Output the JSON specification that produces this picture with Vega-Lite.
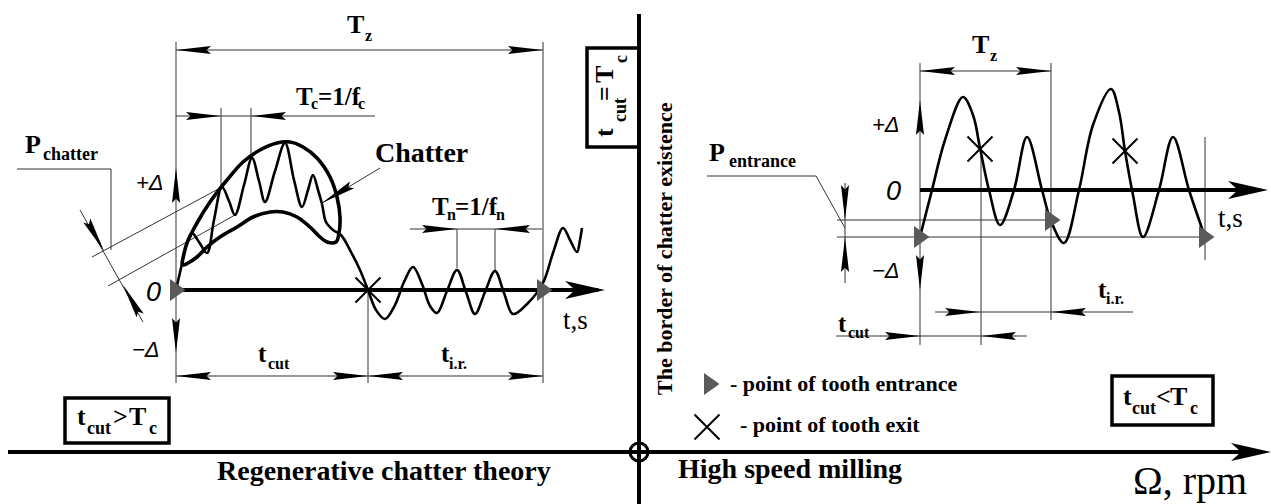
{
"$schema":"https://vega.github.io/schema/vega-lite/v6.json",
"width":1271,"height":504,"padding":0,"autosize":{"type":"none"},
"background":"white",
"config":{"view":{"stroke":null}},
"datasets":{
"paths":[
{"id":"t1","kind":"thin","ord":0,"x":176,"y":42},{"id":"t1","kind":"thin","ord":1,"x":176,"y":383},
{"id":"t2","kind":"thin","ord":0,"x":543,"y":42},{"id":"t2","kind":"thin","ord":1,"x":543,"y":383},
{"id":"t3","kind":"thin","ord":0,"x":176,"y":50},{"id":"t3","kind":"thin","ord":1,"x":543,"y":50},
{"id":"t4","kind":"thin","ord":0,"x":176,"y":116},{"id":"t4","kind":"thin","ord":1,"x":375,"y":116},
{"id":"t5","kind":"thin","ord":0,"x":221,"y":108},{"id":"t5","kind":"thin","ord":1,"x":221,"y":187},
{"id":"t6","kind":"thin","ord":0,"x":251,"y":108},{"id":"t6","kind":"thin","ord":1,"x":251,"y":160},
{"id":"t7","kind":"thin","ord":0,"x":410,"y":229},{"id":"t7","kind":"thin","ord":1,"x":542,"y":229},
{"id":"t8","kind":"thin","ord":0,"x":457,"y":229},{"id":"t8","kind":"thin","ord":1,"x":457,"y":268},
{"id":"t9","kind":"thin","ord":0,"x":495,"y":229},{"id":"t9","kind":"thin","ord":1,"x":495,"y":270},
{"id":"t10","kind":"thin","ord":0,"x":368,"y":290},{"id":"t10","kind":"thin","ord":1,"x":368,"y":383},
{"id":"t11","kind":"thin","ord":0,"x":176,"y":376},{"id":"t11","kind":"thin","ord":1,"x":543,"y":376},
{"id":"t12","kind":"thin","ord":0,"x":17,"y":169},{"id":"t12","kind":"thin","ord":1,"x":111,"y":169},{"id":"t12","kind":"thin","ord":2,"x":111,"y":250},
{"id":"t13","kind":"thin","ord":0,"x":222,"y":187},{"id":"t13","kind":"thin","ord":1,"x":92,"y":257},
{"id":"t14","kind":"thin","ord":0,"x":235,"y":215},{"id":"t14","kind":"thin","ord":1,"x":108,"y":286},
{"id":"t15","kind":"thin","ord":0,"x":80,"y":210},{"id":"t15","kind":"thin","ord":1,"x":143,"y":322},
{"id":"t16","kind":"thin","ord":0,"x":380,"y":168},{"id":"t16","kind":"thin","ord":1,"x":322,"y":203},
{"id":"t17","kind":"thin","ord":0,"x":920,"y":63},{"id":"t17","kind":"thin","ord":1,"x":920,"y":345},
{"id":"t18","kind":"thin","ord":0,"x":920,"y":71},{"id":"t18","kind":"thin","ord":1,"x":1051,"y":71},
{"id":"t19","kind":"thin","ord":0,"x":1051,"y":63},{"id":"t19","kind":"thin","ord":1,"x":1051,"y":320},
{"id":"t20","kind":"thin","ord":0,"x":981,"y":148},{"id":"t20","kind":"thin","ord":1,"x":981,"y":345},
{"id":"t21","kind":"thin","ord":0,"x":1205,"y":137},{"id":"t21","kind":"thin","ord":1,"x":1205,"y":260},
{"id":"t22","kind":"thin","ord":0,"x":837,"y":220},{"id":"t22","kind":"thin","ord":1,"x":1051,"y":220},
{"id":"t23","kind":"thin","ord":0,"x":837,"y":237},{"id":"t23","kind":"thin","ord":1,"x":1205,"y":237},
{"id":"t24","kind":"thin","ord":0,"x":845,"y":183},{"id":"t24","kind":"thin","ord":1,"x":845,"y":283},
{"id":"t25","kind":"thin","ord":0,"x":707,"y":176},{"id":"t25","kind":"thin","ord":1,"x":816,"y":176},{"id":"t25","kind":"thin","ord":2,"x":845,"y":228},
{"id":"t26","kind":"thin","ord":0,"x":935,"y":312},{"id":"t26","kind":"thin","ord":1,"x":1133,"y":312},
{"id":"t27","kind":"thin","ord":0,"x":836,"y":336},{"id":"t27","kind":"thin","ord":1,"x":1027,"y":336},
{"id":"a1","kind":"axis","ord":0,"x":176,"y":290},{"id":"a1","kind":"axis","ord":1,"x":598,"y":290},
{"id":"a2","kind":"axis","ord":0,"x":8,"y":452},{"id":"a2","kind":"axis","ord":1,"x":1255,"y":452},
{"id":"a3","kind":"axis","ord":0,"x":639,"y":14},{"id":"a3","kind":"axis","ord":1,"x":639,"y":504},
{"id":"a4","kind":"axis","ord":0,"x":920,"y":190},{"id":"a4","kind":"axis","ord":1,"x":1255,"y":190},
{"id":"c1","kind":"curve","ord":0,"x":176,"y":290},{"id":"c1","kind":"curve","ord":1,"x":181,"y":268},{"id":"c1","kind":"curve","ord":2,"x":186,"y":246},{"id":"c1","kind":"curve","ord":3,"x":192,"y":233},{"id":"c1","kind":"curve","ord":4,"x":199,"y":242},{"id":"c1","kind":"curve","ord":5,"x":207,"y":253},{"id":"c1","kind":"curve","ord":6,"x":214,"y":220},{"id":"c1","kind":"curve","ord":7,"x":222,"y":187},{"id":"c1","kind":"curve","ord":8,"x":229,"y":201},{"id":"c1","kind":"curve","ord":9,"x":235,"y":215},{"id":"c1","kind":"curve","ord":10,"x":244,"y":185},{"id":"c1","kind":"curve","ord":11,"x":252,"y":158},{"id":"c1","kind":"curve","ord":12,"x":259,"y":181},{"id":"c1","kind":"curve","ord":13,"x":265,"y":202},{"id":"c1","kind":"curve","ord":14,"x":275,"y":171},{"id":"c1","kind":"curve","ord":15,"x":285,"y":143},{"id":"c1","kind":"curve","ord":16,"x":294,"y":180},{"id":"c1","kind":"curve","ord":17,"x":302,"y":207},{"id":"c1","kind":"curve","ord":18,"x":308,"y":190},{"id":"c1","kind":"curve","ord":19,"x":313,"y":175},{"id":"c1","kind":"curve","ord":20,"x":318,"y":190},{"id":"c1","kind":"curve","ord":21,"x":322,"y":204},{"id":"c1","kind":"curve","ord":22,"x":326,"y":222},{"id":"c1","kind":"curve","ord":23,"x":333,"y":230},{"id":"c1","kind":"curve","ord":24,"x":341,"y":235},{"id":"c1","kind":"curve","ord":25,"x":351,"y":252},{"id":"c1","kind":"curve","ord":26,"x":360,"y":270},{"id":"c1","kind":"curve","ord":27,"x":368,"y":290},{"id":"c1","kind":"curve","ord":28,"x":376,"y":310},{"id":"c1","kind":"curve","ord":29,"x":385,"y":319},{"id":"c1","kind":"curve","ord":30,"x":395,"y":305},{"id":"c1","kind":"curve","ord":31,"x":404,"y":282},{"id":"c1","kind":"curve","ord":32,"x":413,"y":267},{"id":"c1","kind":"curve","ord":33,"x":422,"y":284},{"id":"c1","kind":"curve","ord":34,"x":430,"y":306},{"id":"c1","kind":"curve","ord":35,"x":437,"y":313},{"id":"c1","kind":"curve","ord":36,"x":447,"y":291},{"id":"c1","kind":"curve","ord":37,"x":457,"y":270},{"id":"c1","kind":"curve","ord":38,"x":466,"y":292},{"id":"c1","kind":"curve","ord":39,"x":475,"y":314},{"id":"c1","kind":"curve","ord":40,"x":485,"y":292},{"id":"c1","kind":"curve","ord":41,"x":495,"y":271},{"id":"c1","kind":"curve","ord":42,"x":504,"y":293},{"id":"c1","kind":"curve","ord":43,"x":513,"y":314},{"id":"c1","kind":"curve","ord":44,"x":528,"y":303},{"id":"c1","kind":"curve","ord":45,"x":543,"y":283},{"id":"c1","kind":"curve","ord":46,"x":553,"y":253},{"id":"c1","kind":"curve","ord":47,"x":563,"y":228},{"id":"c1","kind":"curve","ord":48,"x":570,"y":240},{"id":"c1","kind":"curve","ord":49,"x":577,"y":252},{"id":"c1","kind":"curve","ord":50,"x":580,"y":240},{"id":"c1","kind":"curve","ord":51,"x":582,"y":228},
{"id":"c3","kind":"curve","ord":0,"x":920,"y":237},{"id":"c3","kind":"curve","ord":1,"x":932,"y":190},{"id":"c3","kind":"curve","ord":2,"x":945,"y":140},{"id":"c3","kind":"curve","ord":3,"x":963,"y":97},{"id":"c3","kind":"curve","ord":4,"x":973,"y":115},{"id":"c3","kind":"curve","ord":5,"x":980,"y":148},{"id":"c3","kind":"curve","ord":6,"x":989,"y":190},{"id":"c3","kind":"curve","ord":7,"x":1000,"y":225},{"id":"c3","kind":"curve","ord":8,"x":1014,"y":190},{"id":"c3","kind":"curve","ord":9,"x":1027,"y":137},{"id":"c3","kind":"curve","ord":10,"x":1042,"y":190},{"id":"c3","kind":"curve","ord":11,"x":1051,"y":221},{"id":"c3","kind":"curve","ord":12,"x":1064,"y":243},{"id":"c3","kind":"curve","ord":13,"x":1079,"y":190},{"id":"c3","kind":"curve","ord":14,"x":1093,"y":125},{"id":"c3","kind":"curve","ord":15,"x":1111,"y":89},{"id":"c3","kind":"curve","ord":16,"x":1119,"y":112},{"id":"c3","kind":"curve","ord":17,"x":1125,"y":151},{"id":"c3","kind":"curve","ord":18,"x":1133,"y":195},{"id":"c3","kind":"curve","ord":19,"x":1143,"y":237},{"id":"c3","kind":"curve","ord":20,"x":1159,"y":190},{"id":"c3","kind":"curve","ord":21,"x":1173,"y":137},{"id":"c3","kind":"curve","ord":22,"x":1189,"y":190},{"id":"c3","kind":"curve","ord":23,"x":1205,"y":237},
{"id":"e1","kind":"env","ord":0,"x":182,"y":263},{"id":"e1","kind":"env","ord":1,"x":187,"y":243},{"id":"e1","kind":"env","ord":2,"x":197,"y":223},{"id":"e1","kind":"env","ord":3,"x":210,"y":202},{"id":"e1","kind":"env","ord":4,"x":227,"y":180},{"id":"e1","kind":"env","ord":5,"x":243,"y":162},{"id":"e1","kind":"env","ord":6,"x":260,"y":150},{"id":"e1","kind":"env","ord":7,"x":277,"y":143},{"id":"e1","kind":"env","ord":8,"x":290,"y":142},{"id":"e1","kind":"env","ord":9,"x":303,"y":147},{"id":"e1","kind":"env","ord":10,"x":317,"y":158},{"id":"e1","kind":"env","ord":11,"x":330,"y":177},{"id":"e1","kind":"env","ord":12,"x":337,"y":197},{"id":"e1","kind":"env","ord":13,"x":340,"y":217},{"id":"e1","kind":"env","ord":14,"x":339,"y":233},{"id":"e1","kind":"env","ord":15,"x":336,"y":242},{"id":"e1","kind":"env","ord":16,"x":327,"y":242},{"id":"e1","kind":"env","ord":17,"x":320,"y":237},{"id":"e1","kind":"env","ord":18,"x":310,"y":227},{"id":"e1","kind":"env","ord":19,"x":297,"y":217},{"id":"e1","kind":"env","ord":20,"x":283,"y":212},{"id":"e1","kind":"env","ord":21,"x":270,"y":212},{"id":"e1","kind":"env","ord":22,"x":253,"y":217},{"id":"e1","kind":"env","ord":23,"x":237,"y":227},{"id":"e1","kind":"env","ord":24,"x":220,"y":237},{"id":"e1","kind":"env","ord":25,"x":207,"y":247},{"id":"e1","kind":"env","ord":26,"x":197,"y":257},{"id":"e1","kind":"env","ord":27,"x":188,"y":263},{"id":"e1","kind":"env","ord":28,"x":183,"y":265},{"id":"e1","kind":"env","ord":29,"x":182,"y":263}
],
"arrows":[
{"x":176,"y":50,"dir":"left","kind":"dim"},{"x":543,"y":50,"dir":"right","kind":"dim"},
{"x":221,"y":116,"dir":"right","kind":"dim"},{"x":251,"y":116,"dir":"left","kind":"dim"},
{"x":176,"y":168,"dir":"up","kind":"dim"},{"x":176,"y":353,"dir":"down","kind":"dim"},
{"x":457,"y":229,"dir":"right","kind":"dim"},{"x":495,"y":229,"dir":"left","kind":"dim"},
{"x":176,"y":376,"dir":"left","kind":"dim"},{"x":368,"y":376,"dir":"right","kind":"dim"},{"x":368,"y":376,"dir":"left","kind":"dim"},{"x":543,"y":376,"dir":"right","kind":"dim"},
{"x":104,"y":251,"dir":"pc1","kind":"dim"},{"x":123,"y":285,"dir":"pc2","kind":"dim"},{"x":322,"y":203,"dir":"ptr","kind":"dim"},
{"x":920,"y":71,"dir":"left","kind":"dim"},{"x":1051,"y":71,"dir":"right","kind":"dim"},
{"x":920,"y":100,"dir":"up","kind":"dim"},{"x":920,"y":290,"dir":"down","kind":"dim"},
{"x":845,"y":220,"dir":"down","kind":"dim"},{"x":845,"y":237,"dir":"up","kind":"dim"},
{"x":980,"y":312,"dir":"right","kind":"dim"},{"x":1051,"y":312,"dir":"left","kind":"dim"},
{"x":920,"y":336,"dir":"right","kind":"dim"},{"x":981,"y":336,"dir":"left","kind":"dim"},
{"x":605,"y":290,"dir":"axr","kind":"axis"},{"x":1271,"y":452,"dir":"axr","kind":"axis"},{"x":1268,"y":190,"dir":"axr","kind":"axis"}
],
"marks":[
{"x":177,"y":290,"type":"entry"},{"x":544,"y":290,"type":"entry"},{"x":921,"y":237,"type":"entry"},{"x":1052,"y":220,"type":"entry"},{"x":1206,"y":237,"type":"entry"},{"x":711,"y":384,"type":"entry"},
{"x":368,"y":290,"type":"exit"},{"x":980,"y":149,"type":"exit"},{"x":1125,"y":151,"type":"exit"},{"x":707,"y":427,"type":"exit"},
{"x":639,"y":452,"type":"origin"}
],
"boxes":[
{"x":65,"x2":169,"y":398,"y2":443},{"x":1112,"x2":1213,"y":376,"y2":425},{"x":587,"x2":639,"y":48,"y2":147}
],
"texts":[
{"x":347,"y":33,"t":"T","role":"big"},{"x":365,"y":41,"t":"z","role":"sub"},
{"x":296,"y":105,"t":"T","role":"mid"},{"x":311,"y":109,"t":"c","role":"sub"},{"x":318,"y":105,"t":"=1/f","role":"mid"},{"x":358,"y":109,"t":"c","role":"sub"},
{"x":375,"y":162,"t":"Chatter","role":"head"},
{"x":25,"y":153,"t":"P","role":"big"},{"x":43,"y":160,"t":"chatter","role":"sub18"},
{"x":136,"y":190,"t":"+Δ","role":"ital"},{"x":146,"y":301,"t":"0","role":"zero"},{"x":132,"y":357,"t":"−Δ","role":"ital"},
{"x":563,"y":329,"t":"t,s","role":"reg"},
{"x":258,"y":362,"t":"t","role":"mid"},{"x":268,"y":369,"t":"cut","role":"sub"},
{"x":441,"y":362,"t":"t","role":"mid"},{"x":449,"y":369,"t":"i.r.","role":"sub"},
{"x":432,"y":215,"t":"T","role":"mid"},{"x":447,"y":220,"t":"n","role":"sub"},{"x":455,"y":215,"t":"=1/f","role":"mid"},{"x":496,"y":220,"t":"n","role":"sub"},
{"x":77,"y":425,"t":"t","role":"big"},{"x":87,"y":434,"t":"cut","role":"sub18"},{"x":113,"y":425,"t":">","role":"big"},{"x":129,"y":425,"t":"T","role":"big"},{"x":149,"y":434,"t":"c","role":"sub18"},
{"x":217,"y":480,"t":"Regenerative chatter theory","role":"head"},
{"x":672,"y":395,"t":"The border of chatter existence","role":"vert"},
{"x":613,"y":137,"t":"t","role":"vbig"},{"x":626,"y":122,"t":"cut","role":"vsub"},{"x":613,"y":101,"t":"=","role":"vbig"},{"x":613,"y":83,"t":"T","role":"vbig"},{"x":627,"y":63,"t":"c","role":"vsub"},
{"x":972,"y":53,"t":"T","role":"big"},{"x":990,"y":61,"t":"z","role":"sub"},
{"x":872,"y":132,"t":"+Δ","role":"ital"},{"x":886,"y":200,"t":"0","role":"zero"},{"x":872,"y":278,"t":"−Δ","role":"ital"},
{"x":709,"y":161,"t":"P","role":"big"},{"x":729,"y":167,"t":"entrance","role":"sub18"},
{"x":1218,"y":227,"t":"t,s","role":"reg"},
{"x":1098,"y":298,"t":"t","role":"mid"},{"x":1106,"y":304,"t":"i.r.","role":"sub"},
{"x":838,"y":332,"t":"t","role":"mid"},{"x":848,"y":338,"t":"cut","role":"sub"},
{"x":730,"y":391,"t":"- point of tooth entrance","role":"leg"},
{"x":740,"y":432,"t":"- point of tooth exit","role":"leg"},
{"x":678,"y":478,"t":"High speed milling","role":"head"},
{"x":1133,"y":494,"t":"Ω, rpm","role":"omega"},
{"x":1123,"y":405,"t":"t","role":"big"},{"x":1132,"y":414,"t":"cut","role":"sub18"},{"x":1156,"y":405,"t":"<","role":"big"},{"x":1170,"y":405,"t":"T","role":"big"},{"x":1190,"y":414,"t":"c","role":"sub18"}
]
},
"encoding":{
"x":{"field":"x","type":"quantitative","scale":{"domain":[0,1271],"nice":false,"zero":false},"axis":null},
"y":{"field":"y","type":"quantitative","scale":{"domain":[0,504],"reverse":true,"nice":false,"zero":false},"axis":null}
},
"layer":[
{"data":{"name":"boxes"},"mark":{"type":"rect","filled":false,"color":"black","strokeWidth":3.5},"encoding":{"x2":{"field":"x2"},"y2":{"field":"y2"}}},
{"data":{"name":"paths"},"transform":[{"filter":"datum.kind=='thin'"}],"mark":{"type":"line","color":"#333","strokeWidth":1},"encoding":{"detail":{"field":"id"},"order":{"field":"ord"}}},
{"data":{"name":"paths"},"transform":[{"filter":"datum.kind=='axis'"}],"mark":{"type":"line","color":"black","strokeWidth":4},"encoding":{"detail":{"field":"id"},"order":{"field":"ord"}}},
{"data":{"name":"paths"},"transform":[{"filter":"datum.kind=='curve'"}],"mark":{"type":"line","color":"black","strokeWidth":2.6,"interpolate":"catmull-rom"},"encoding":{"detail":{"field":"id"},"order":{"field":"ord"}}},
{"data":{"name":"paths"},"transform":[{"filter":"datum.kind=='env'"}],"mark":{"type":"line","color":"black","strokeWidth":3.6,"interpolate":"catmull-rom"},"encoding":{"detail":{"field":"id"},"order":{"field":"ord"}}},
{"data":{"name":"arrows"},"transform":[{"filter":"datum.kind=='dim'"}],"mark":{"type":"point","filled":true,"color":"black","opacity":1,"strokeWidth":0,"size":1225},
 "encoding":{"shape":{"field":"dir","type":"nominal","legend":null,"scale":{"domain":["right","left","up","down","pc1","pc2","ptr","axr"],"range":["M0,0L-2,-0.23L-1.75,0L-2,0.23Z","M0,0L2,-0.23L1.75,0L2,0.23Z","M0,0L-0.23,2L0,1.75L0.23,2Z","M0,0L-0.23,-2L0,-1.75L0.23,-2Z","M0,0L-1.18,-1.627L-0.858,-1.523L-0.78,-1.853Z","M0,0L1.18,1.627L0.858,1.523L0.78,1.853Z","M0,0L1.595,-1.231L1.5,-0.905L1.833,-0.837Z","M0,0L-2,-0.45L-1.5,0L-2,0.45Z"]}}}},
{"data":{"name":"arrows"},"transform":[{"filter":"datum.kind=='axis'"}],"mark":{"type":"point","filled":true,"color":"black","opacity":1,"strokeWidth":0,"size":1600},
 "encoding":{"shape":{"field":"dir","type":"nominal","legend":null,"scale":{"domain":["right","left","up","down","pc1","pc2","ptr","axr"],"range":["M0,0L-2,-0.23L-1.75,0L-2,0.23Z","M0,0L2,-0.23L1.75,0L2,0.23Z","M0,0L-0.23,2L0,1.75L0.23,2Z","M0,0L-0.23,-2L0,-1.75L0.23,-2Z","M0,0L-1.18,-1.627L-0.858,-1.523L-0.78,-1.853Z","M0,0L1.18,1.627L0.858,1.523L0.78,1.853Z","M0,0L1.595,-1.231L1.5,-0.905L1.833,-0.837Z","M0,0L-2,-0.45L-1.5,0L-2,0.45Z"]}}}},
{"data":{"name":"marks"},"transform":[{"filter":"datum.type=='entry'"}],"mark":{"type":"point","filled":true,"color":"#5a5a5a","opacity":1,"strokeWidth":0,"size":400,"shape":"M-0.7,-1.1L0.85,0L-0.7,1.1Z"}},
{"data":{"name":"marks"},"transform":[{"filter":"datum.type=='exit'"}],"mark":{"type":"point","filled":false,"color":"black","opacity":1,"strokeWidth":2,"size":625,"shape":"M-1,-1L1,1M-1,1L1,-1"}},
{"data":{"name":"marks"},"transform":[{"filter":"datum.type=='origin'"}],"mark":{"type":"point","filled":false,"color":"black","opacity":1,"strokeWidth":3,"size":324,"shape":"circle"}},
{"data":{"name":"texts"},"transform":[{"filter":"datum.role=='big'"}],"mark":{"type":"text","font":"Liberation Serif","fontWeight":"bold","fontSize":26,"align":"left","baseline":"alphabetic","color":"black"},"encoding":{"text":{"field":"t"}}},
{"data":{"name":"texts"},"transform":[{"filter":"datum.role=='mid'"}],"mark":{"type":"text","font":"Liberation Serif","fontWeight":"bold","fontSize":25,"align":"left","baseline":"alphabetic","color":"black"},"encoding":{"text":{"field":"t"}}},
{"data":{"name":"texts"},"transform":[{"filter":"datum.role=='sub'"}],"mark":{"type":"text","font":"Liberation Serif","fontWeight":"bold","fontSize":16,"align":"left","baseline":"alphabetic","color":"black"},"encoding":{"text":{"field":"t"}}},
{"data":{"name":"texts"},"transform":[{"filter":"datum.role=='sub18'"}],"mark":{"type":"text","font":"Liberation Serif","fontWeight":"bold","fontSize":18,"align":"left","baseline":"alphabetic","color":"black"},"encoding":{"text":{"field":"t"}}},
{"data":{"name":"texts"},"transform":[{"filter":"datum.role=='head'"}],"mark":{"type":"text","font":"Liberation Serif","fontWeight":"bold","fontSize":28,"align":"left","baseline":"alphabetic","color":"black"},"encoding":{"text":{"field":"t"}}},
{"data":{"name":"texts"},"transform":[{"filter":"datum.role=='leg'"}],"mark":{"type":"text","font":"Liberation Serif","fontWeight":"bold","fontSize":22,"align":"left","baseline":"alphabetic","color":"black"},"encoding":{"text":{"field":"t"}}},
{"data":{"name":"texts"},"transform":[{"filter":"datum.role=='ital'"}],"mark":{"type":"text","font":"Liberation Sans","fontStyle":"italic","fontSize":22,"align":"left","baseline":"alphabetic","color":"black"},"encoding":{"text":{"field":"t"}}},
{"data":{"name":"texts"},"transform":[{"filter":"datum.role=='zero'"}],"mark":{"type":"text","font":"Liberation Sans","fontStyle":"italic","fontSize":27,"align":"left","baseline":"alphabetic","color":"black"},"encoding":{"text":{"field":"t"}}},
{"data":{"name":"texts"},"transform":[{"filter":"datum.role=='reg'"}],"mark":{"type":"text","font":"Liberation Serif","fontSize":27,"align":"left","baseline":"alphabetic","color":"black"},"encoding":{"text":{"field":"t"}}},
{"data":{"name":"texts"},"transform":[{"filter":"datum.role=='omega'"}],"mark":{"type":"text","font":"Liberation Serif","fontSize":40,"align":"left","baseline":"alphabetic","color":"black"},"encoding":{"text":{"field":"t"}}},
{"data":{"name":"texts"},"transform":[{"filter":"datum.role=='vert'"}],"mark":{"type":"text","font":"Liberation Serif","fontWeight":"bold","fontSize":22,"align":"left","baseline":"alphabetic","angle":270,"color":"black"},"encoding":{"text":{"field":"t"}}},
{"data":{"name":"texts"},"transform":[{"filter":"datum.role=='vbig'"}],"mark":{"type":"text","font":"Liberation Serif","fontWeight":"bold","fontSize":26,"align":"left","baseline":"alphabetic","angle":270,"color":"black"},"encoding":{"text":{"field":"t"}}},
{"data":{"name":"texts"},"transform":[{"filter":"datum.role=='vsub'"}],"mark":{"type":"text","font":"Liberation Serif","fontWeight":"bold","fontSize":18,"align":"left","baseline":"alphabetic","angle":270,"color":"black"},"encoding":{"text":{"field":"t"}}}
]
}
